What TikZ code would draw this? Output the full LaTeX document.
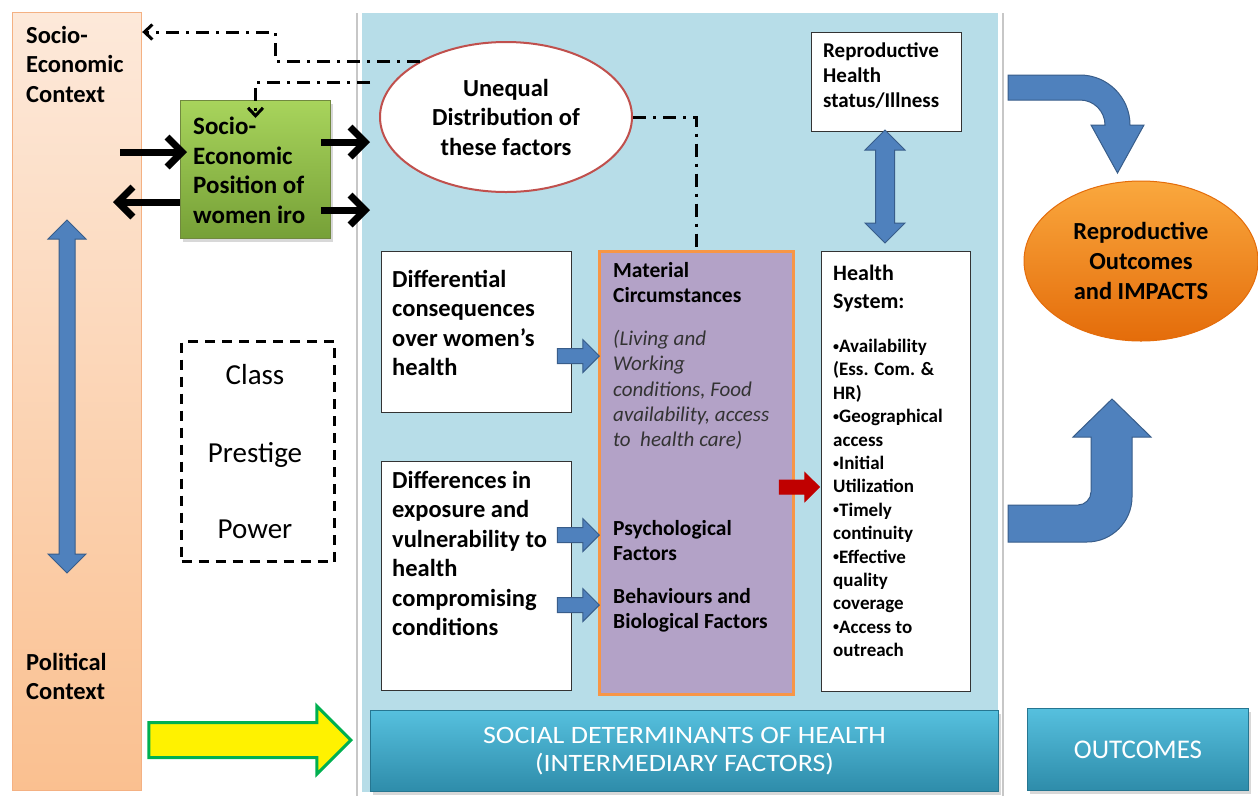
\documentclass[tikz,border=0pt]{standalone}
\usepackage{fontspec}
\setmainfont{Carlito}
\usetikzlibrary{arrows.meta,shapes.geometric,shapes.arrows,shadows,positioning}

\definecolor{peachtop}{RGB}{253,233,218}
\definecolor{peachbot}{RGB}{250,192,144}
\definecolor{peachline}{RGB}{244,177,131}
\definecolor{panelblue}{RGB}{183,221,232}
\definecolor{greentop}{RGB}{168,212,92}
\definecolor{greenbot}{RGB}{118,160,55}
\definecolor{greenline}{RGB}{113,137,63}
\definecolor{ellred}{RGB}{192,80,77}
\definecolor{matfill}{RGB}{179,162,199}
\definecolor{matline}{RGB}{247,150,70}
\definecolor{arrowblue}{RGB}{79,129,189}
\definecolor{arrowline}{RGB}{56,93,138}
\definecolor{arrowred}{RGB}{192,0,0}
\definecolor{orangetop}{RGB}{250,168,62}
\definecolor{orangebot}{RGB}{228,108,10}
\definecolor{tealtop}{RGB}{86,192,222}
\definecolor{tealbot}{RGB}{46,140,170}
\definecolor{tealline}{RGB}{38,118,145}
\definecolor{arrowgreen}{RGB}{0,176,80}

% small list bullet
\newcommand\hsbullet{{\fontsize{12}{12}\selectfont\raisebox{2.5pt}{•}}}

\begin{document}
\begin{tikzpicture}[x=1pt,y=-1pt,
  every node/.style={inner sep=0pt},
  txt/.style={anchor=north west,align=left,font=\fontsize{24.5}{29.5}\selectfont\bfseries},
  smalltxt/.style={anchor=north west,align=left,font=\fontsize{21.5}{25}\selectfont\bfseries},
  listtxt/.style={anchor=north west,align=left,font=\fontsize{19}{23.4}\selectfont\bfseries},
  whitebox/.style={draw=black!80,fill=white,line width=1.3pt,anchor=north west},
  ctxbox/.style={anchor=north west,top color=peachtop,bottom color=peachbot,draw=peachline,line width=1.2pt},
  posbox/.style={anchor=north west,top color=greentop,bottom color=greenbot,draw=greenline,line width=1pt,
    drop shadow={shadow xshift=2pt,shadow yshift=-3pt,opacity=0.3}},
  matbox/.style={anchor=north west,fill=matfill,draw=matline,line width=3pt},
  tealbox/.style={anchor=north west,align=center,text=white,top color=tealtop,bottom color=tealbot,
    draw=tealline,line width=1pt,drop shadow={shadow xshift=2pt,shadow yshift=-3pt,opacity=0.3}},
  bluearrow/.style={single arrow,draw=arrowline,fill=arrowblue,line width=1pt,inner ysep=7pt,
    single arrow head extend=9pt,minimum height=42pt,anchor=tip},
  dblarrow/.style={double arrow,draw=arrowline,fill=arrowblue,line width=1pt},
  fatarrow/.style={line width=7pt,-{Straight Barb[length=15pt,width=30pt]}},
  linkline/.style={line width=3pt,dash pattern=on 13pt off 7pt on 3pt off 7pt,-{Straight Barb[length=8pt,width=15pt]}},
]
\useasboundingbox (0,0) rectangle (1258,796);
\fill[white] (0,0) rectangle (1258,796);

% middle panel and separators
\fill[panelblue] (362,13) rectangle (998,792);
\draw[black!22,line width=1.5pt] (357,13) -- (357,796);
\draw[black!22,line width=1.5pt] (1003,13) -- (1003,796);

% context column
\node[ctxbox,minimum width=129pt,minimum height=778pt] (ctx) at (12,12) {};
\node[txt] (ctxa) at (26,26) {Socio-\\Economic\\Context};
\node[txt] (ctxb) at (26,653) {Political\\Context};
\node[dblarrow,rotate=90,minimum height=353pt,inner ysep=7.5pt,double arrow head extend=11pt] (ctxarr) at (67,396.5) {};

% socio-economic position
\node[posbox,minimum width=150pt,minimum height=138pt] (soc) at (180,100) {};
\node[txt,font=\fontsize{25}{29.5}\selectfont\bfseries] (soctxt) at (193,117) {Socio-\\Economic\\Position of\\women iro};

\coordinate (in1) at (120,152);
\coordinate (out1) at (113,202);
\coordinate (r1) at (370,142);
\coordinate (r2) at (370,210);
\draw[fatarrow,shorten >=-7pt] (in1) -- (soc.west |- in1);
\draw[fatarrow] (soc.west |- out1) -- (out1);
\draw[fatarrow] ([xshift=-10pt]soc.east |- r1) -- (r1);
\draw[fatarrow] ([xshift=-10pt]soc.east |- r2) -- (r2);

% unequal distribution
\node[ellipse,draw=ellred,line width=2pt,fill=white,minimum width=252pt,minimum height=150pt,align=center,
  font=\fontsize{24.5}{29.5}\selectfont\bfseries] (uneq) at (506,117) {Unequal\\Distribution of\\these factors};

% class, prestige, power
\node[draw,line width=3pt,dash pattern=on 10pt off 7pt,anchor=north west,minimum width=153pt,minimum height=220pt] (pwr) at (180,340) {};
\node[font=\fontsize{29}{34}\selectfont,anchor=base] (cls) at (255,384) {Class};
\node[font=\fontsize{29}{34}\selectfont,anchor=base] (prs) at (255,462) {Prestige};
\node[font=\fontsize{29}{34}\selectfont,anchor=base] (pow) at (255,538) {Power};

% structural boxes
\node[whitebox,minimum width=190pt,minimum height=161pt] (dcons) at (381,251) {};
\node[txt] (dconstxt) at (392,270) {Differential\\consequences\\over women’s\\health};
\node[whitebox,minimum width=190pt,minimum height=229pt] (dexp) at (381,461) {};
\node[txt] (dexptxt) at (392,471) {Differences in\\exposure and\\vulnerability to\\health\\compromising\\conditions};

% intermediary factors
\node[matbox,minimum width=194pt,minimum height=443pt] (mat) at (598,250) {};
\node[smalltxt] (mattxt) at (613,262) {Material\\Circumstances};
\node[smalltxt,font=\fontsize{21}{25.3}\selectfont\itshape,text=black!80] (matit) at (613,330) {(Living and\\Working\\conditions, Food\\availability, access\\to~ health care)};
\node[smalltxt] (psy) at (613,520) {Psychological\\Factors};
\node[smalltxt] (beh) at (613,588) {Behaviours and\\Biological Factors};

\node[bluearrow] (ba1) at (600,356) {};
\node[bluearrow] (ba2) at (600,535) {};
\node[bluearrow] (ba3) at (600,605) {};

% health system
\node[whitebox,minimum width=149pt,minimum height=440pt] (hsys) at (821,251) {};
\node[txt,font=\fontsize{22}{28}\selectfont\bfseries] (hsyshd) at (833,265) {Health\\System:};
\node[listtxt] (hsyslst) at (833,339) {\hsbullet Availability\\(Ess. Com. \&\\HR)\\\hsbullet Geographical\\access\\\hsbullet Initial\\Utilization\\\hsbullet Timely\\continuity\\\hsbullet Effective\\quality\\coverage\\\hsbullet Access to\\outreach};
\node[bluearrow,fill=arrowred,draw=arrowred,inner ysep=6.5pt,minimum height=40pt,single arrow head extend=7.5pt] (ra) at (820,487) {};

\node[whitebox,minimum width=150pt,minimum height=99pt] (rhs) at (811,32) {};
\node[smalltxt,font=\fontsize{21}{25}\selectfont\bfseries] (rhstxt) at (823,43) {Reproductive\\Health\\status/Illness};
\node[dblarrow,rotate=90,minimum height=113pt,inner ysep=9pt,double arrow head extend=10.5pt] (hsarr) at (885,186.5) {};

% dash-dot links
\coordinate (k1) at (275,32);
\coordinate (k2) at (370,82);
\draw[linkline] (uneq.147) -| (k1) -- (ctx.east |- k1);
\draw[linkline] (k2) -| ([yshift=-18pt]soc.north);
\draw[linkline,-] (uneq.east) -| (mat.north);

% outcomes
\node[ellipse,top color=orangetop,bottom color=orangebot,draw=orangebot,line width=1pt,minimum width=234pt,minimum height=160pt,
  align=center,font=\fontsize{24.5}{30}\selectfont\bfseries] (outc) at (1141,261) {Reproductive\\Outcomes\\and IMPACTS};

\filldraw[fill=arrowblue,draw=arrowline,line width=1pt]
  (1008,75) -- (1080,75) .. controls (1107.6,75) and (1130,97.4) .. (1130,125) -- (1144,125) -- (1117.5,173)
  -- (1091,125) -- (1105,125) .. controls (1105,111.2) and (1093.8,100) .. (1080,100) -- (1008,100) -- cycle;
\filldraw[fill=arrowblue,draw=arrowline,line width=1pt]
  (1008,505) -- (1078,505) .. controls (1085,505) and (1091,499) .. (1091,492) -- (1091,437) -- (1073,437)
  -- (1112,399) -- (1151,437) -- (1132,437) -- (1132,497) .. controls (1132,521.8) and (1111.8,542) .. (1087,542)
  -- (1008,542) -- cycle;

% bottom labels
\node[single arrow,fill=yellow,draw=arrowgreen,line width=3pt,inner ysep=16pt,minimum height=202pt,
  single arrow head extend=16.5pt,anchor=tip] (ya) at (353,740) {};
\node[tealbox,minimum width=628pt,minimum height=81pt,
  font=\fontsize{25}{28}\selectfont\addfontfeature{FakeStretch=1.12}] (sdh) at (370,710) {SOCIAL DETERMINANTS OF HEALTH\\(INTERMEDIARY FACTORS)};
\node[tealbox,minimum width=221pt,minimum height=82pt,font=\fontsize{27}{30}\selectfont] (outlbl) at (1027,708) {OUTCOMES};
\end{tikzpicture}
\end{document}
